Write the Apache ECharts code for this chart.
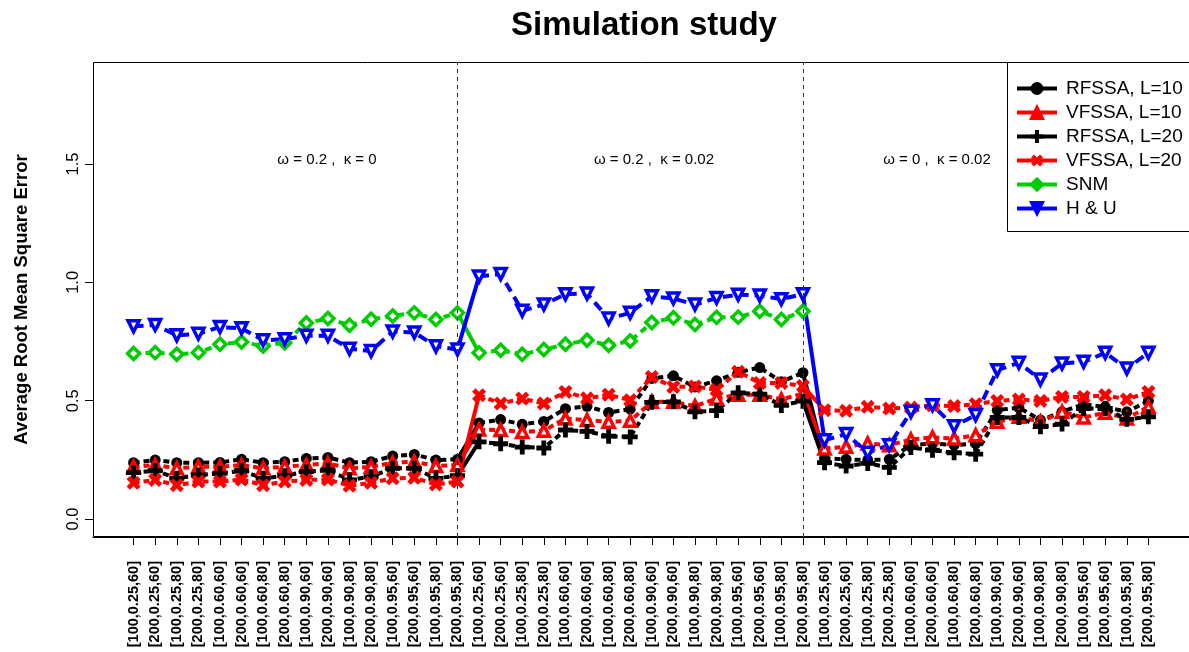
<!DOCTYPE html>
<html><head><meta charset="utf-8">
<script src="https://cdn.jsdelivr.net/npm/echarts@6/dist/echarts.min.js"></script>
<style>html,body{margin:0;padding:0;background:#fff}#c{width:1189px;height:652px}</style>
</head><body><div id="c"></div>
<script>
const groupLabels = ['[100,0.25,60]','[200,0.25,60]','[100,0.25,80]','[200,0.25,80]',
  '[100,0.60,60]','[200,0.60,60]','[100,0.60,80]','[200,0.60,80]',
  '[100,0.90,60]','[200,0.90,60]','[100,0.90,80]','[200,0.90,80]',
  '[100,0.95,60]','[200,0.95,60]','[100,0.95,80]','[200,0.95,80]'];
const categories = groupLabels.concat(groupLabels, groupLabels);

const rfssa10 = [0.238,0.249,0.238,0.238,0.239,0.252,0.238,0.242,0.256,0.260,0.238,0.242,0.266,0.273,0.249,0.252,
  0.406,0.420,0.400,0.412,0.466,0.476,0.450,0.464,0.594,0.605,0.558,0.584,0.620,0.640,0.580,0.618,
  0.256,0.252,0.249,0.252,0.312,0.319,0.312,0.319,0.460,0.471,0.418,0.453,0.485,0.474,0.453,0.499];
const vfssa10 = [0.221,0.228,0.214,0.221,0.221,0.228,0.214,0.221,0.228,0.235,0.214,0.221,0.238,0.242,0.224,0.228,
  0.378,0.376,0.368,0.373,0.425,0.418,0.411,0.415,0.495,0.495,0.477,0.509,0.525,0.525,0.505,0.530,
  0.298,0.305,0.319,0.312,0.336,0.345,0.340,0.354,0.411,0.432,0.411,0.453,0.429,0.449,0.425,0.474];
const rfssa20 = [0.196,0.204,0.172,0.186,0.193,0.204,0.172,0.183,0.200,0.207,0.165,0.179,0.214,0.214,0.172,0.183,
  0.326,0.318,0.304,0.300,0.376,0.370,0.350,0.347,0.493,0.495,0.453,0.458,0.533,0.528,0.480,0.498,
  0.238,0.224,0.235,0.218,0.302,0.291,0.280,0.274,0.429,0.429,0.390,0.401,0.467,0.467,0.421,0.432];
const vfssa20 = [0.153,0.165,0.143,0.158,0.158,0.167,0.143,0.158,0.165,0.167,0.141,0.153,0.172,0.174,0.146,0.158,
  0.523,0.488,0.509,0.488,0.537,0.510,0.525,0.502,0.600,0.558,0.560,0.546,0.622,0.575,0.575,0.562,
  0.460,0.457,0.474,0.467,0.471,0.481,0.477,0.485,0.499,0.505,0.499,0.516,0.516,0.523,0.505,0.537];
const snm = [0.699,0.703,0.696,0.703,0.738,0.748,0.731,0.745,0.828,0.847,0.819,0.844,0.858,0.871,0.843,0.871,
  0.702,0.713,0.696,0.716,0.738,0.755,0.734,0.752,0.830,0.850,0.822,0.852,0.853,0.878,0.843,0.878,
  null,null,null,null,null,null,null,null,null,null,null,null,null,null,null,null];
const hu = [0.814,0.820,0.776,0.783,0.811,0.806,0.755,0.760,0.774,0.774,0.719,0.710,0.792,0.788,0.730,0.716,
  1.025,1.035,0.880,0.906,0.950,0.953,0.847,0.871,0.941,0.932,0.906,0.934,0.948,0.944,0.929,0.950,
  0.333,0.359,0.280,0.312,0.453,0.481,0.392,0.439,0.629,0.660,0.589,0.657,0.664,0.702,0.636,0.702];

const yTicks = [0, 0.5, 1.0, 1.5];
const groupBreaks = [15, 31];
const panelTexts = ['\u03c9 = 0.2 ,  \u03ba = 0', '\u03c9 = 0.2 ,  \u03ba = 0.02', '\u03c9 = 0 ,  \u03ba = 0.02'];
const seriesNames = ['RFSSA, L=10','VFSSA, L=10','RFSSA, L=20','VFSSA, L=20','SNM','H & U'];

const FONT = 'Liberation Sans, Arial, sans-serif';
const PLUS = 'path://M-0.16,-0.5L0.16,-0.5L0.16,-0.16L0.5,-0.16L0.5,0.16L0.16,0.16L0.16,0.5L-0.16,0.5L-0.16,0.16L-0.5,0.16L-0.5,-0.16L-0.16,-0.16Z';

const styles = [
  {data: rfssa10, color:'#000000', symbol:'circle', size:11, rot:0, open:false, dash:[6,4]},
  {data: vfssa10, color:'#ff0000', symbol:'triangle', size:11, rot:0, open:true, dash:[6,4]},
  {data: rfssa20, color:'#000000', symbol:PLUS, size:15, rot:0, open:false, dash:[6,4]},
  {data: vfssa20, color:'#ff0000', symbol:PLUS, size:15, rot:45, open:false, dash:[6,4]},
  {data: snm, color:'#00cd00', symbol:'diamond', size:12, rot:0, open:true, dash:[7,5]},
  {data: hu, color:'#0000ff', symbol:'triangle', size:11, rot:180, open:true, dash:[10,6]}
];

function mainData(arr){
  const out = [];
  arr.forEach((v,i)=>{
    if (groupBreaks.indexOf(i-1) >= 0) out.push([i-0.5,'-']);
    out.push([i, v == null ? '-' : v]);
  });
  return out;
}
function transData(arr){
  const out = [];
  groupBreaks.forEach(b=>{
    if (arr[b] != null && arr[b+1] != null) {
      if (out.length) out.push([b-0.5,'-']);
      out.push([b, arr[b]]); out.push([b+1, arr[b+1]]);
    }
  });
  return out;
}

const series = [];
styles.forEach((s,k)=>{
  series.push({
    name: seriesNames[k] + ' link', type:'line', data: transData(s.data),
    symbol:'none', z:1, silent:true, connectNulls:false,
    lineStyle:{color:s.color, width:4, type:'solid'}
  });
});
styles.forEach((s,k)=>{
  const ser = {
    name: seriesNames[k], type:'line', data: mainData(s.data), z:3,
    symbol: s.symbol, symbolSize: s.size, symbolRotate: s.rot, showAllSymbol:true,
    connectNulls:false,
    lineStyle:{color:s.color, width:4, type:s.dash},
    itemStyle: s.open ? {color:'#ffffff', borderColor:s.color, borderWidth:3.5}
                      : {color:s.color, borderWidth:0}
  };
  if (k === 0) {
    ser.markLine = {silent:true, symbol:['none','none'], label:{show:false},
      lineStyle:{color:'#333', type:[4,4], width:1},
      data: groupBreaks.map(b=>({xAxis:b}))};
  }
  series.push(ser);
});

const GRID = {left:93, top:62, width:1103, height:475};
const Y_MIN = -0.076, Y_MAX = 1.931;

const chart = echarts.init(document.getElementById('c'), null, {renderer:'canvas'});
chart.setOption({
  animation:false,
  backgroundColor:'#ffffff',
  title:{text:'Simulation study', left:639, top:4, textAlign:'center',
    textStyle:{fontSize:33, fontWeight:'bold', fontFamily:FONT, color:'#000'}},
  grid:{left:GRID.left, top:GRID.top, width:GRID.width, height:GRID.height, containLabel:false},
  xAxis:{type:'value', min:-1.88, max:48.88,
    splitLine:{show:false},
    axisLine:{show:true, onZero:false, lineStyle:{color:'#000', width:1}},
    axisTick:{show:true, length:8, lineStyle:{color:'#000', width:1}, customValues: categories.map((c,i)=>i)},
    axisLabel:{show:true, rotate:90, margin:24, fontSize:14.5, fontWeight:'bold', fontFamily:FONT, color:'#000',
      customValues: categories.map((c,i)=>i),
      formatter:(v)=>categories[Math.round(v)]}
  },
  yAxis:{type:'value', min:Y_MIN, max:Y_MAX, position:'left', offset:8,
    splitLine:{show:false},
    axisLine:{show:false, onZero:false},
    axisTick:{show:true, inside:true, length:8, lineStyle:{color:'#000', width:1}, customValues: yTicks},
    axisLabel:{show:true, rotate:90, margin:3, fontSize:16.5, fontFamily:FONT, color:'#000',
      customValues: yTicks, formatter:(v)=>v.toFixed(1)},
    name:'Average Root Mean Square Error', nameLocation:'middle', nameRotate:90, nameGap:54,
    nameTextStyle:{fontSize:18.5, fontWeight:'bold', fontFamily:FONT, color:'#000'}
  },
  legend:{orient:'vertical', left:1010, top:74, z:10, itemWidth:40, itemHeight:16, itemGap:5,
    data: styles.map((s,k)=>({name:seriesNames[k], itemStyle:{color:s.color, borderColor:s.color}, lineStyle:{color:s.color, type:'solid', width:4}})),
    textStyle:{fontSize:19, fontFamily:FONT, color:'#000', padding:[0,0,0,4]},
    selectedMode:false},
  graphic:[
    {type:'rect', z:0, silent:true, shape:{x:93.5, y:62.5, width:1110, height:474}, style:{fill:'none', stroke:'#000', lineWidth:1}},
    {type:'rect', z:2, silent:true, shape:{x:1007.5, y:62.5, width:200, height:169}, style:{fill:'#fff', stroke:'#000', lineWidth:1}},
    {type:'text', x:327, y:160, silent:true, style:{text:panelTexts[0], fontSize:15, fontFamily:FONT, fill:'#000', align:'center', verticalAlign:'middle'}},
    {type:'text', x:654, y:160, silent:true, style:{text:panelTexts[1], fontSize:15, fontFamily:FONT, fill:'#000', align:'center', verticalAlign:'middle'}},
    {type:'text', x:937, y:160, silent:true, style:{text:panelTexts[2], fontSize:15, fontFamily:FONT, fill:'#000', align:'center', verticalAlign:'middle'}}
  ],
  series: series
});
</script></body></html>
